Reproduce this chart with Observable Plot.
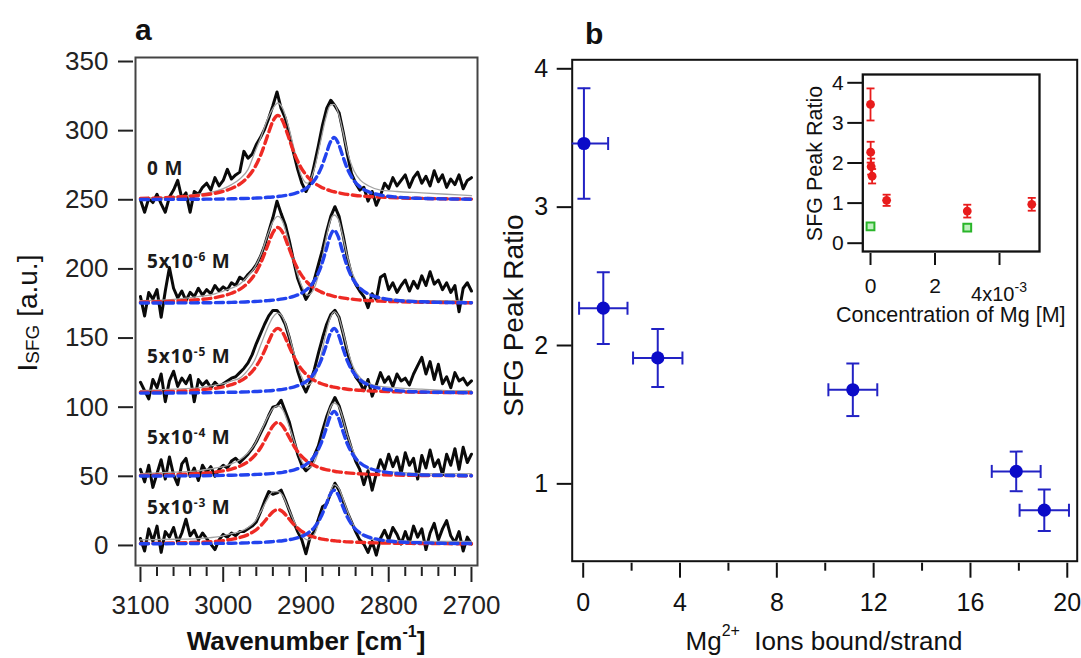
<!DOCTYPE html>
<html><head><meta charset="utf-8">
<script src="https://cdn.jsdelivr.net/npm/d3@7"></script>
<script src="https://cdn.jsdelivr.net/npm/@observablehq/plot@0.6"></script>
<style>
html,body{margin:0;padding:0;background:#fff;}
#fig{position:relative;width:1081px;height:658px;overflow:hidden;background:#fff;}
#fig svg{position:absolute;overflow:visible;}
</style></head><body><div id="fig"></div>
<script>
// ---------- Panel a data ----------
const wn = d3.range(3100, 2699, -5); // measurement grid, cm-1
const fitWn = [3100,3060,3030,3010,3000,2990,2980,2970,2962,2954,2946,2940,2934,2928,2922,2914,2906,2898,2890,2882,2876,2871,2866,2861,2856,2850,2842,2834,2824,2810,2790,2760,2730,2700];

const black0M = [250,241,251,248,254,247,241,252,257,264, 251,255,241,256,254,259,262,257,266,260, 264,272,265,268,270,285,280,283,290,295, 301,309,318,328,316,309,297,284,272,262, 256,262,275,289,304,316,322,318,313,299, 283,269,262,257,259,249,256,246,253,262, 258,266,260,264,268,259,266,270,262,267, 260,271,263,268,259,265,261,268,258,264, 266];
const black5e6 = [180,166,183,178,185,165,184,201,186,179, 184,177,183,180,186,181,185,182,188,184, 187,185,190,188,194,192,196,199,203,209, 217,227,237,249,240,232,220,206,193,185, 178,183,192,203,214,227,238,245,238,224, 208,196,189,184,180,172,182,178,194,196, 185,190,183,188,192,184,191,186,195,188, 198,189,192,185,190,183,188,169,186,190, 184];
const black5e5 = [118,112,106,120,114,124,104,119,126,115, 121,117,123,104,120,116,119,114,118,115, 117,119,121,122,125,128,132,138,146,153, 160,166,170,170,166,160,150,138,126,117, 111,118,127,139,150,160,167,170,165,153, 140,129,122,118,112,120,108,116,125,118, 122,115,124,119,121,116,124,130,136,124, 133,120,131,117,122,114,125,119,121,116, 119];
const black5e4 = [55,46,58,42,52,62,48,64,51,44, 59,63,50,56,47,58,53,57,50,55, 58,56,61,63,60,63,66,70,75,81, 87,94,100,101,105,97,89,77,66,58, 54,57,65,72,83,93,101,107,101,91, 80,70,61,55,44,54,40,52,62,55, 66,57,64,52,67,58,63,48,65,56, 69,57,62,51,66,58,70,55,71,60, 66];
const black5e3 = [5,-4,12,3,14,-5,10,6,13,2, 9,19,7,11,4,9,5,1,-3,4, 8,6,9,7,10,10,12,14,17,24, 32,39,37,38,40,33,25,17,10,4, -6,6,10,19,28,30,38,45,40,32, 24,17,10,4,1,-5,3,-7,5,11, 4,13,8,1,10,2,14,6,12,-3, 9,16,4,12,18,7,2,10,-4,6, 1];

const grey0M = [251,252,254,256,258,261,265,272,284,296,309,316,320,316,305,286,268,262,272,293,309,318,319,313,301,285,271,264,260,257,256,255,254,253];
const grey5e6 = [177,178,180,182,184,186,189,195,201,211,225,234,238,234,222,204,189,181,186,203,221,234,239,236,225,209,194,186,182,179,178,177,177,176];
const grey5e5 = [112,113,114,116,117,119,121,127,134,146,158,165,168,165,155,138,123,116,121,137,153,164,169,166,156,142,128,121,117,115,114,113,112,112];
const grey5e4 = [52,53,54,56,57,59,62,67,73,83,93,99,101,98,89,75,62,56,60,74,88,99,103,101,93,80,67,59,56,54,53,52,52,52];
const grey5e3 = [4,4.5,5,6,7,8.5,10,13,17,25,34,39,39,36,28,17,8,4,8,21,30,38,44,42,35,25,14,8,5,4,3.5,3,3,3];

const red0M = [251.0,251.8,253.1,254.7,256.1,258.2,261.3,266.6,273.3,283.4,297.0,306.8,311.0,306.8,297.0,283.4,273.3,266.6,262.2,259.3,257.7,256.6,255.8,255.1,254.5,253.9,253.3,252.8,252.4,251.9,251.4,251.0,250.7,250.5];
const blue0M = [250.2,250.3,250.4,250.5,250.6,250.7,250.9,251.0,251.2,251.4,251.8,252.0,252.4,252.8,253.4,254.5,256.2,259.0,263.9,272.5,282.4,291.0,295.0,291.0,282.4,272.5,263.9,259.0,255.7,253.4,251.9,251.0,250.6,250.4];
const red5e6 = [175.9,176.7,177.8,179.2,180.5,182.4,185.2,190.0,196.0,205.1,217.4,226.2,230.0,226.2,217.4,205.1,196.0,190.0,186.0,183.4,181.9,181.0,180.2,179.6,179.1,178.5,178.0,177.5,177.1,176.7,176.3,175.9,175.7,175.5];
const blue5e6 = [175.3,175.4,175.5,175.6,175.7,175.8,176.0,176.2,176.4,176.7,177.1,177.4,177.8,178.3,179.0,180.3,182.3,185.6,191.3,201.5,213.1,223.3,228.0,223.3,213.1,201.5,191.3,185.6,181.7,179.0,177.2,176.2,175.7,175.5];
const red5e5 = [110.8,111.4,112.4,113.6,114.7,116.3,118.7,122.8,128.0,135.8,146.2,153.8,157.0,153.8,146.2,135.8,128.0,122.8,119.4,117.1,115.9,115.1,114.5,113.9,113.5,113.0,112.5,112.2,111.8,111.5,111.1,110.8,110.6,110.4];
const blue5e5 = [110.2,110.3,110.4,110.6,110.7,110.8,110.9,111.1,111.3,111.5,111.8,112.1,112.5,112.9,113.6,114.7,116.5,119.4,124.5,133.5,143.8,152.8,157.0,152.8,143.8,133.5,124.5,119.4,116.0,113.6,112.0,111.0,110.7,110.4];
const red5e4 = [50.7,51.2,52.0,53.0,53.9,55.2,57.3,60.6,64.9,71.4,80.1,86.3,89.0,86.3,80.1,71.4,64.9,60.6,57.8,55.9,54.9,54.3,53.7,53.2,52.9,52.5,52.1,51.8,51.5,51.2,50.9,50.6,50.5,50.4];
const blue5e4 = [50.2,50.3,50.4,50.6,50.7,50.8,50.9,51.1,51.3,51.5,51.8,52.1,52.5,52.9,53.6,54.7,56.5,59.4,64.5,73.5,83.8,92.8,97.0,92.8,83.8,73.5,64.5,59.4,56.0,53.6,52.0,51.0,50.7,50.4];
const red5e3 = [1.4,1.8,2.3,2.9,3.5,4.4,5.7,7.8,10.6,14.7,20.3,24.3,26.0,24.3,20.3,14.7,10.6,7.8,6.0,4.8,4.2,3.7,3.4,3.1,2.9,2.6,2.4,2.2,2.0,1.8,1.6,1.4,1.3,1.2];
const blue5e3 = [1.2,1.3,1.4,1.5,1.5,1.6,1.7,1.9,2.1,2.2,2.5,2.8,3.1,3.4,4.0,4.9,6.4,8.8,13.0,20.5,29.0,36.5,40.0,36.5,29.0,20.5,13.0,8.8,6.0,4.0,2.6,1.9,1.5,1.4];

const specMantissa = ["0", "5x10", "5x10", "5x10", "5x10"];
const specExponent = ["", "-6", "-5", "-4", "-3"];
const yTicksA = [0,50,100,150,200,250,300,350];
const xTicksA = [3100,3000,2900,2800,2700];
const xMinorA = [3080,3060,3040,3020,2980,2960,2940,2920,2880,2860,2840,2820,2780,2760,2740,2720];

// ---------- Panel b data ----------
const mgBound    = [0.03, 0.83, 3.08, 11.14, 17.89, 19.05];
const mgBoundErr = [1.0, 1.0, 1.02, 1.01, 1.01, 1.02];
const peakRatio    = [3.46, 2.27, 1.91, 1.68, 1.09, 0.81];
const peakRatioErr = [0.40, 0.26, 0.21, 0.19, 0.143, 0.15];
const xTicksB = [0,4,8,12,16,20];
const xMinorB = [2,6,10,14,18];
const yTicksB = [1,2,3,4];

// ---------- Inset data ----------
const concMg = [0, 5e-6, 2e-5, 5e-5, 5e-4, 3e-3, 5e-3];
const insetRatio = [3.46, 2.27, 1.91, 1.67, 1.07, 0.80, 0.97];
const insetRatioErr = [0.40, 0.26, 0.20, 0.18, 0.14, 0.16, 0.16];
const concGreen = [0, 3e-3];
const greenRatio = [0.42, 0.39];
const greenErr = [0.05, 0.05];
const xTicksI = [0, 0.002, 0.004];
const yTicksI = [0,1,2,3,4];

// ---------- build tables ----------
const spectra = [
  {black: black0M, grey: grey0M, red: red0M, blue: blue0M},
  {black: black5e6, grey: grey5e6, red: red5e6, blue: blue5e6},
  {black: black5e5, grey: grey5e5, red: red5e5, blue: blue5e5},
  {black: black5e4, grey: grey5e4, red: red5e4, blue: blue5e4},
  {black: black5e3, grey: grey5e3, red: red5e3, blue: blue5e3}
];
const blackRows = spectra.flatMap((s, k) => s.black.map((v, i) => ({wn: wn[i], v, k})));
const fitRows = key => spectra.flatMap((s, k) => s[key].map((v, i) => ({wn: fitWn[i], v, k})));
const mainPts = mgBound.map((mg, i) => ({mg, me: mgBoundErr[i], r: peakRatio[i], re: peakRatioErr[i]}));
const redPts = concMg.map((c, i) => ({c, r: insetRatio[i], re: insetRatioErr[i]}));
const greenPts = concGreen.map((c, i) => ({c, r: greenRatio[i], re: greenErr[i]}));

const SANS = "Liberation Sans, Arial, Helvetica, sans-serif";
const hcap = {draw(ctx, size) { const h = Math.sqrt(size / Math.PI); ctx.moveTo(-h, 0); ctx.lineTo(h, 0); }};
const vcap = {draw(ctx, size) { const h = Math.sqrt(size / Math.PI); ctx.moveTo(0, -h); ctx.lineTo(0, h); }};

function rich(svg, x, y, parts, o) {
  const t = d3.select(svg).append("text").attr("x", x).attr("y", y)
    .attr("text-anchor", o.anchor || "start")
    .attr("font-family", o.family || SANS)
    .attr("font-size", o.size)
    .attr("font-weight", o.weight || "normal")
    .attr("fill", o.fill || "#111")
    .style("white-space", "pre");
  if (o.rotate) t.attr("transform", `rotate(-90 ${x} ${y})`);
  if (o.ls) t.attr("letter-spacing", o.ls);
  let shift = 0;
  for (const p of parts) {
    const s = p.s || 0;
    const ts = t.append("tspan").text(p.t).attr("dy", shift - s);
    shift = s;
    if (p.size) ts.attr("font-size", p.size);
  }
  return t;
}
// enforce tick-label font on every text Plot drew (called before extra texts are added)
function tickFont(svg, px) {
  d3.select(svg).selectAll("text").style("font-size", px + "px").style("font-family", SANS);
}

const fig = document.getElementById("fig");

// ---------- Panel a ----------
const lineOpts = {x: "wn", y: "v", z: "k"};
const pa = Plot.plot({
  width: 490, height: 658,
  marginLeft: 135, marginRight: 13, marginTop: 57, marginBottom: 93,
  x: {domain: [3106, 2692.7]},
  y: {domain: [-14.5, 352.9]},
  style: {fontFamily: SANS, fontSize: "26px", color: "#222", background: "transparent"},
  marks: [
    Plot.line(blackRows, {...lineOpts, stroke: "#0a0a0a", strokeWidth: 3, strokeLinejoin: "round"}),
    Plot.line(fitRows("grey"), {...lineOpts, stroke: "#a3a3a3", strokeWidth: 1.3, curve: "monotone-x"}),
    Plot.line(fitRows("red"), {...lineOpts, stroke: "#ee2a24", strokeWidth: 3.4, strokeDasharray: "8,4.5", curve: "monotone-x"}),
    Plot.line(fitRows("blue"), {...lineOpts, stroke: "#2343ee", strokeWidth: 3.4, strokeDasharray: "8,4.5", curve: "monotone-x"}),
    Plot.frame({stroke: "#444", strokeWidth: 2}),
    Plot.axisY({ticks: yTicksA, tickSize: 15, tickPadding: 10, dx: -2, fontSize: 26, strokeWidth: 2, tickFormat: d => String(d), label: null}),
    Plot.axisX({ticks: xTicksA, tickSize: 15, tickPadding: 13, dy: 2, fontSize: 26, strokeWidth: 2, tickFormat: d => String(d), label: null}),
    Plot.axisX({ticks: xMinorA, tickSize: 9, dy: 2, strokeWidth: 2, tickFormat: () => "", label: null})
  ]
});
d3.select(pa).style("left", "0px").style("top", "0px");
fig.appendChild(pa);
tickFont(pa, 26);
{
  const X = pa.scale("x"), Y = pa.scale("y");
  const levels = [272.4, 205.4, 136.8, 78.3, 27.7];
  specMantissa.forEach((m, i) => {
    const parts = specExponent[i]
      ? [{t: m}, {t: specExponent[i], s: 7, size: 12}, {t: " M"}]
      : [{t: m + " M"}];
    rich(pa, X.apply(3091.5), Y.apply(levels[i]) + 7, parts,
      {size: 19, weight: 700, family: "Open Sans, Lato, sans-serif", fill: "#1a1a1a", ls: 0.8});
  });
  rich(pa, 135, 40, [{t: "a"}], {size: 30, weight: 700});
  rich(pa, 37, 313, [{t: "I"}, {t: "SFG", s: -2, size: 19}, {t: " [a.u.]"}], {size: 28, anchor: "middle", rotate: true});
  rich(pa, 306, 650, [{t: "Wavenumber [cm"}, {t: "-1", s: 13, size: 16}, {t: "]"}], {size: 26, weight: 700, anchor: "middle"});
}

// ---------- Panel b ----------
const BLUE = "#0b0bc8", BLUE_E = "#2222c4";
const pb = Plot.plot({
  width: 591, height: 658,
  marginLeft: 81.7, marginRight: 4.3, marginTop: 59.3, marginBottom: 97.3,
  x: {domain: [-0.4545, 20.41]},
  y: {domain: [0.441, 4.065]},
  style: {fontFamily: SANS, fontSize: "25px", color: "#111", background: "transparent"},
  marks: [
    Plot.frame({stroke: "#111", strokeWidth: 2}),
    Plot.axisY({ticks: yTicksB, tickSize: 15, tickPadding: 9, fontSize: 25, strokeWidth: 2, tickFormat: d => String(d), label: null}),
    Plot.axisX({ticks: xTicksB, tickSize: 15, tickPadding: 15, dy: 2, fontSize: 25, strokeWidth: 2, tickFormat: d => String(d), label: null}),
    Plot.axisX({ticks: xMinorB, tickSize: 8, dy: 2, strokeWidth: 2, tickFormat: () => "", label: null}),
    Plot.ruleX(mainPts, {x: "mg", y1: d => d.r - d.re, y2: d => d.r + d.re, stroke: BLUE_E, strokeWidth: 2, clip: true}),
    Plot.ruleY(mainPts, {y: "r", x1: d => d.mg - d.me, x2: d => d.mg + d.me, stroke: BLUE_E, strokeWidth: 2, clip: true}),
    Plot.dot(mainPts, {x: "mg", y: d => d.r + d.re, symbol: hcap, r: 6.5, stroke: BLUE_E, strokeWidth: 2, fill: "none", clip: true}),
    Plot.dot(mainPts, {x: "mg", y: d => d.r - d.re, symbol: hcap, r: 6.5, stroke: BLUE_E, strokeWidth: 2, fill: "none", clip: true}),
    Plot.dot(mainPts, {x: d => d.mg - d.me, y: "r", symbol: vcap, r: 6.5, stroke: BLUE_E, strokeWidth: 2, fill: "none", clip: true}),
    Plot.dot(mainPts, {x: d => d.mg + d.me, y: "r", symbol: vcap, r: 6.5, stroke: BLUE_E, strokeWidth: 2, fill: "none", clip: true}),
    Plot.dot(mainPts, {x: "mg", y: "r", r: 6.6, fill: BLUE, stroke: "none"})
  ]
});
d3.select(pb).style("left", "490px").style("top", "0px");
fig.appendChild(pb);
tickFont(pb, 25);
rich(pb, 95, 44, [{t: "b"}], {size: 30, weight: 700});
rich(pb, 33, 315.5, [{t: "SFG Peak Ratio"}], {size: 28, anchor: "middle", rotate: true});
rich(pb, 334, 650, [{t: "Mg"}, {t: "2+", s: 14, size: 16}, {t: "  Ions bound/strand"}], {size: 26, anchor: "middle"});

// ---------- Inset ----------
const RED = "#e81c1c", GREEN = "#2ab52a";
const pi = Plot.plot({
  width: 270, height: 290,
  marginLeft: 72.3, marginRight: 21, marginTop: 24, marginBottom: 89,
  x: {domain: [-0.000239, 0.00524]},
  y: {domain: [-0.207, 4.207]},
  style: {fontFamily: SANS, fontSize: "21px", color: "#111", background: "transparent"},
  marks: [
    Plot.frame({stroke: "#111", strokeWidth: 2.3}),
    Plot.axisY({ticks: yTicksI, tickSize: 15, tickPadding: 4, fontSize: 21, strokeWidth: 2, tickFormat: d => String(d), label: null}),
    Plot.axisX({ticks: xTicksI, tickSize: 12, tickPadding: 13, dy: 2, fontSize: 21, strokeWidth: 2, tickFormat: d => d === 0 ? "0" : d === 0.002 ? "2" : "", label: null}),
    Plot.ruleX(greenPts, {x: "c", y1: d => d.r - d.re, y2: d => d.r + d.re, stroke: GREEN, strokeWidth: 1.2}),
    Plot.dot(greenPts, {x: "c", y: "r", symbol: "square", r: 4.4, stroke: GREEN, strokeWidth: 2, fill: "#bff0bf"}),
    Plot.ruleX(redPts, {x: "c", y1: d => d.r - d.re, y2: d => d.r + d.re, stroke: RED, strokeWidth: 1.8}),
    Plot.dot(redPts, {x: "c", y: d => d.r + d.re, symbol: hcap, r: 4, stroke: RED, strokeWidth: 1.8, fill: "none"}),
    Plot.dot(redPts, {x: "c", y: d => d.r - d.re, symbol: hcap, r: 4, stroke: RED, strokeWidth: 1.8, fill: "none"}),
    Plot.dot(redPts, {x: "c", y: "r", r: 4.4, fill: RED, stroke: "none"})
  ]
});
d3.select(pi).style("left", "790px").style("top", "50px");
fig.appendChild(pi);
tickFont(pi, 21);
rich(pi, pi.scale("x").apply(0.004), 251, [{t: "4x10"}, {t: "-3", s: 9, size: 14}], {size: 20, anchor: "middle"});
rich(pi, 32, 113.5, [{t: "SFG Peak Ratio"}], {size: 21.5, anchor: "middle", rotate: true});
rich(pi, 160.8, 272, [{t: "Concentration of Mg [M]"}], {size: 21.5, anchor: "middle"});
</script></body></html>
